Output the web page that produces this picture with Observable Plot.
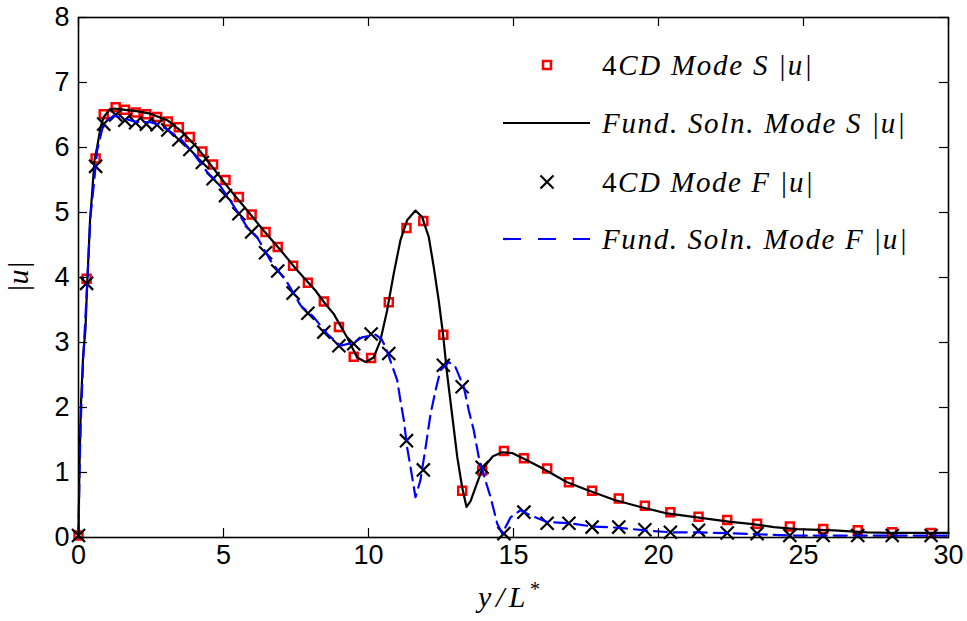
<!DOCTYPE html>
<html>
<head>
<meta charset="utf-8">
<script src="https://cdn.jsdelivr.net/npm/d3@7"></script>
<script src="https://cdn.jsdelivr.net/npm/@observablehq/plot@0.6"></script>
<style>
  body { margin: 0; background: #fff; }
</style>
</head>
<body>
<div id="chart"></div>
<script>
// Mesh positions (y/L*) of the 4CD solution
const gridX = [0, 0.28, 0.59, 0.87, 1.28, 1.60, 1.97, 2.34, 2.71, 3.08, 3.46, 3.84, 4.27, 4.64, 5.07, 5.53,
  5.97, 6.45, 6.87, 7.40, 7.91, 8.46, 8.98, 9.49, 10.09, 10.70, 11.31, 11.89, 12.58, 13.23, 13.92, 14.67,
  15.36, 16.16, 16.91, 17.71, 18.63, 19.53, 20.41, 21.38, 22.37, 23.40, 24.53, 25.68, 26.87, 28.06, 29.40];

// 4CD Mode S |u|
const modeS4CD = [0.03, 3.98, 5.83, 6.51, 6.62, 6.58, 6.54, 6.51, 6.47, 6.40, 6.31, 6.16, 5.94, 5.74, 5.50, 5.24,
  4.97, 4.70, 4.47, 4.18, 3.92, 3.63, 3.24, 2.78, 2.76, 3.62, 4.76, 4.87, 3.12, 0.72, 1.03, 1.33,
  1.22, 1.06, 0.85, 0.72, 0.60, 0.49, 0.39, 0.32, 0.27, 0.21, 0.17, 0.13, 0.11, 0.08, 0.07];

// 4CD Mode F |u|
const modeF4CD = [0.03, 3.91, 5.71, 6.36, 6.50, 6.42, 6.38, 6.36, 6.35, 6.27, 6.12, 5.97, 5.77, 5.52, 5.26, 4.98,
  4.70, 4.38, 4.10, 3.76, 3.45, 3.16, 2.95, 2.98, 3.13, 2.83, 1.49, 1.04, 2.65, 2.32, 1.08, 0.06,
  0.39, 0.22, 0.22, 0.16, 0.16, 0.12, 0.08, 0.11, 0.07, 0.06, 0.03, 0.03, 0.03, 0.03, 0.03];

// Fundamental solution, Mode S
const fundSX = [0, 0.03, 0.08, 0.16, 0.24, 0.30, 0.40, 0.47, 0.55, 0.64, 0.76, 0.87, 1.05, 1.22, 1.60, 2.00,
  2.48, 3.06, 3.52, 4.09, 4.67, 5.24, 5.82, 6.39, 6.97, 7.54, 8.17, 8.50, 8.80, 9.26, 9.61, 9.90,
  10.18, 10.41, 10.64, 10.87, 11.10, 11.33, 11.62, 11.85, 12.08, 12.25, 12.42, 12.57, 12.71, 12.88, 13.06, 13.23,
  13.38, 13.52, 13.69, 13.92, 14.29, 14.61, 14.95, 15.36, 15.93, 16.85, 17.54, 18.46, 19.38, 20.30, 21.33, 22.48,
  23.17, 23.98, 24.78, 26.05, 27.20, 28.00, 30.00];
const fundSY = [0, 1.0, 2.0, 2.8, 3.2, 3.9, 4.9, 5.3, 5.8, 6.0, 6.31, 6.47, 6.57, 6.60, 6.58, 6.56,
  6.52, 6.42, 6.26, 6.00, 5.67, 5.34, 5.03, 4.72, 4.42, 4.11, 3.80, 3.60, 3.44, 3.08, 2.77, 2.70,
  2.77, 3.03, 3.49, 4.06, 4.57, 4.88, 5.03, 4.93, 4.62, 4.16, 3.65, 3.13, 2.52, 1.90, 1.24, 0.77,
  0.47, 0.56, 0.77, 1.05, 1.25, 1.31, 1.30, 1.21, 1.08, 0.85, 0.73, 0.58, 0.47, 0.37, 0.31, 0.24,
  0.21, 0.16, 0.13, 0.11, 0.08, 0.07, 0.07];

// Fundamental solution, Mode F
const fundFX = [0, 0.03, 0.07, 0.16, 0.24, 0.30, 0.41, 0.53, 0.64, 0.82, 1.00, 1.22, 1.62, 2.02, 2.48, 2.83,
  3.17, 3.52, 3.98, 4.44, 4.84, 5.24, 5.82, 6.16, 6.62, 7.20, 7.66, 8.11, 8.58, 9.03, 9.49, 9.78,
  10.24, 10.45, 10.59, 10.87, 10.99, 11.10, 11.22, 11.33, 11.45, 11.62, 11.79, 11.97, 12.14, 12.31, 12.48, 12.77,
  13.00, 13.29, 13.46, 13.63, 13.80, 14.03, 14.21, 14.44, 14.61, 14.90, 15.24, 15.59, 16.16, 16.91, 17.71, 18.63,
  19.53, 20.41, 21.33, 22.83, 24.55, 26.28, 28.00, 30.00];
const fundFY = [0, 0.9, 1.7, 2.72, 3.39, 3.9, 4.93, 5.44, 5.95, 6.29, 6.42, 6.49, 6.44, 6.39, 6.39, 6.34,
  6.24, 6.13, 5.90, 5.62, 5.44, 5.18, 4.77, 4.62, 4.26, 3.92, 3.57, 3.39, 3.13, 2.95, 3.00, 3.08,
  3.12, 3.05, 2.93, 2.57, 2.42, 2.11, 1.80, 1.39, 1.08, 0.62, 0.88, 1.39, 1.90, 2.26, 2.57, 2.70,
  2.62, 2.31, 1.95, 1.65, 1.24, 0.88, 0.62, 0.21, 0.06, 0.31, 0.42, 0.34, 0.24, 0.22, 0.17, 0.15,
  0.11, 0.08, 0.08, 0.06, 0.03, 0.03, 0.03, 0.03];

const xTicks = [0, 5, 10, 15, 20, 25, 30];
const yTicks = [0, 1, 2, 3, 4, 5, 6, 7, 8];

const legendLabels = [
  ["4", "CD Mode S |u|"],
  ["", "Fund. Soln. Mode S |u|"],
  ["4", "CD Mode F |u|"],
  ["", "Fund. Soln. Mode F |u|"]
];

// Layout
const W = 967, H = 621;
const mL = 78, mR = 19, mT = 17, mB = 84;
const innerW = W - mL - mR, innerH = H - mT - mB;
const tickLen = 9;
const serif = "'Liberation Serif', 'DejaVu Serif', 'Times New Roman', serif";

const red = "#ff0000", blue = "#0000ff";
const squareR = 4.5, timesR = 6;

const sPts = gridX.map((x, i) => ({x, y: modeS4CD[i]}));
const fPts = gridX.map((x, i) => ({x, y: modeF4CD[i]}));
const sLine = fundSX.map((x, i) => ({x, y: fundSY[i]}));
const fLine = fundFX.map((x, i) => ({x, y: fundFY[i]}));

const plot = Plot.plot({
  width: W,
  height: H,
  marginLeft: mL,
  marginRight: mR,
  marginTop: mT,
  marginBottom: mB,
  x: {domain: [0, 30]},
  y: {domain: [0, 8]},
  style: {
    fontFamily: "'Liberation Sans', Arial, Helvetica, sans-serif",
    fontSize: "27px",
    color: "black",
    background: "white",
    overflow: "visible"
  },
  marks: [
    Plot.dot(sPts, {x: "x", y: "y", symbol: "square", r: squareR, stroke: red, strokeWidth: 2.5, fill: "none"}),
    Plot.line(sLine, {x: "x", y: "y", stroke: "black", strokeWidth: 2.2}),
    Plot.dot(fPts, {x: "x", y: "y", symbol: "times", r: timesR, stroke: "black", strokeWidth: 2.2}),
    Plot.line(fLine, {x: "x", y: "y", stroke: blue, strokeWidth: 2.2, strokeDasharray: "13,7"}),
    Plot.frame({stroke: "black", strokeWidth: 1.6}),
    // inward ticks on all four sides
    Plot.ruleX(xTicks, {x: d => d, insetTop: innerH - tickLen, stroke: "black", strokeWidth: 1.2}),
    Plot.ruleX(xTicks, {x: d => d, insetBottom: innerH - tickLen, stroke: "black", strokeWidth: 1.2}),
    Plot.ruleY(yTicks, {y: d => d, insetRight: innerW - tickLen, stroke: "black", strokeWidth: 1.2}),
    Plot.ruleY(yTicks, {y: d => d, insetLeft: innerW - tickLen, stroke: "black", strokeWidth: 1.2}),
    Plot.axisX({ticks: xTicks, tickSize: 0, tickPadding: 7, label: null, tickFormat: d => String(d)}),
    Plot.axisY({ticks: yTicks, tickSize: 0, tickPadding: 9, label: null, tickFormat: d => String(d)})
  ]
});

document.getElementById("chart").appendChild(plot);

// Axis titles and legend
const svg = d3.select(plot);

svg.append("text")
  .attr("transform", `translate(${mL - 57},${mT + innerH / 2}) rotate(-90)`)
  .attr("text-anchor", "middle")
  .attr("dominant-baseline", "middle")
  .attr("font-family", serif)
  .attr("font-style", "italic")
  .attr("font-size", 30)
  .attr("fill", "black")
  .text("|u|");

const xt = svg.append("text")
  .attr("x", 478)
  .attr("y", H - 14)
  .attr("text-anchor", "start")
  .attr("font-family", serif)
  .attr("font-style", "italic")
  .attr("font-size", 30)
  .attr("fill", "black")
  .attr("textLength", 62)
  .attr("lengthAdjust", "spacing");
xt.append("tspan").text("y/L");
xt.append("tspan").attr("dy", -11).attr("font-size", 20).attr("font-style", "normal").text("*");

const legend = svg.append("g").attr("transform", `translate(${mL + 425},${mT})`);
const rowY = [48, 106, 165, 222];
const textLen = [210, 303, 211, 305];
const sym = (type, r) => d3.symbol(type, Math.PI * r * r)();

// row 1: squares
legend.append("path")
  .attr("d", sym(d3.symbolSquare, squareR))
  .attr("transform", `translate(44,${rowY[0]})`)
  .attr("fill", "none").attr("stroke", red).attr("stroke-width", 2.5);
// row 2: solid black
legend.append("line")
  .attr("x1", 0).attr("x2", 87).attr("y1", rowY[1]).attr("y2", rowY[1])
  .attr("stroke", "black").attr("stroke-width", 2.2);
// row 3: crosses
legend.append("path")
  .attr("d", sym(d3.symbolTimes, timesR))
  .attr("transform", `translate(44,${rowY[2]})`)
  .attr("fill", "none").attr("stroke", "black").attr("stroke-width", 2.2);
// row 4: blue dashed
legend.append("line")
  .attr("x1", 0).attr("x2", 87).attr("y1", rowY[3]).attr("y2", rowY[3])
  .attr("stroke", blue).attr("stroke-width", 2.2).attr("stroke-dasharray", "18,17");

legendLabels.forEach(([upright, rest], i) => {
  const t = legend.append("text")
    .attr("x", 99)
    .attr("y", rowY[i] + 10)
    .attr("text-anchor", "start")
    .attr("font-family", serif)
    .attr("font-size", 29)
    .attr("fill", "black")
    .attr("textLength", textLen[i])
    .attr("lengthAdjust", "spacing");
  if (upright) t.append("tspan").text(upright);
  t.append("tspan").attr("font-style", "italic").text(rest);
});
</script>
</body>
</html>
